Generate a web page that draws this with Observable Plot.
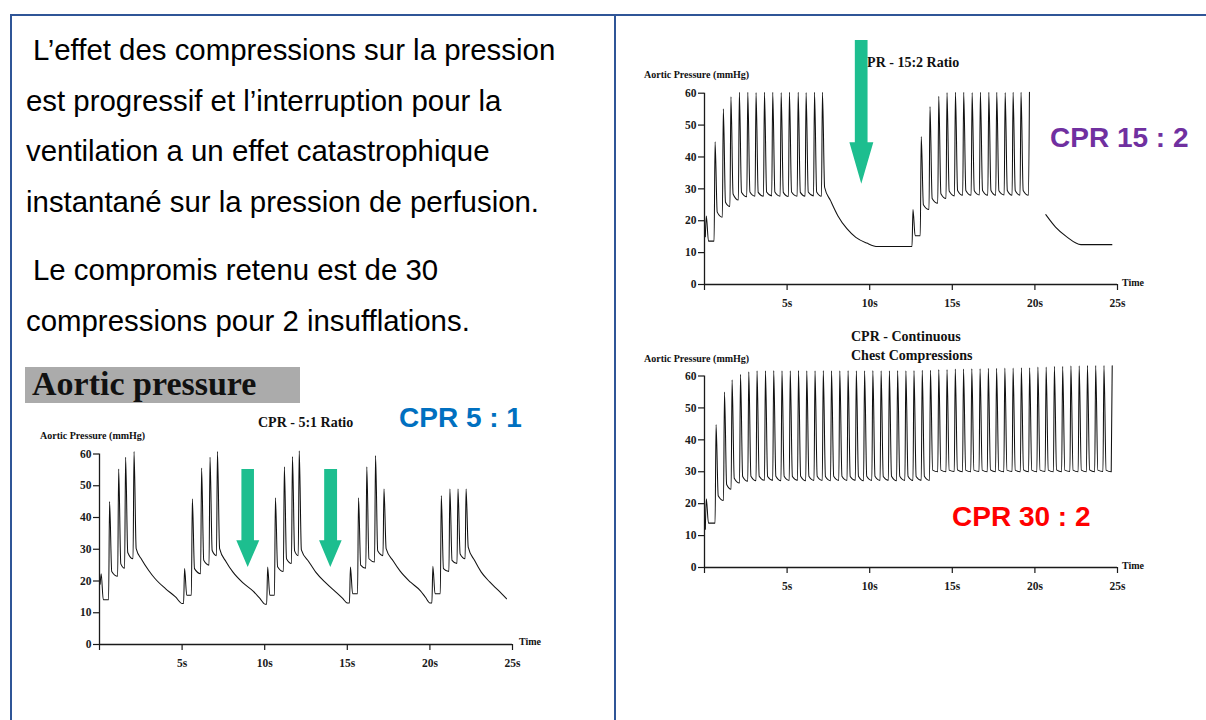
<!DOCTYPE html>
<html><head><meta charset="utf-8">
<script src="https://cdn.jsdelivr.net/npm/d3@7"></script>
<script src="https://cdn.jsdelivr.net/npm/@observablehq/plot@0.6"></script>
<style>
html,body{margin:0;padding:0;background:#fff;}
#page{position:relative;width:1206px;height:720px;overflow:hidden;font-family:"Liberation Sans",Arial,sans-serif;}
.t{position:absolute;white-space:nowrap;}
.body{font-size:29px;line-height:29px;color:#000;}
.cpr{font-weight:bold;font-size:28px;line-height:28px;}
.serif{font-family:"Liberation Serif","Times New Roman",serif;font-weight:bold;color:#111;}
.line{position:absolute;background:#2F5597;}
.chart{position:absolute;}
</style></head>
<body><div id="page"></div>
<script>
// ---------- Axis ticks ----------
const xTicks = [0, 5, 10, 15, 20, 25];
const xTickLabels = ["", "5s", "10s", "15s", "20s", "25s"];
const yTicks = [0, 10, 20, 30, 40, 50, 60];

// ---------- CPR 5:1 (time s, aortic pressure mmHg) ----------
const r51Time  = [0.10, 0.61, 1.16, 1.58, 2.09,  5.15, 5.62, 6.18, 6.69, 7.14,  10.18, 10.65, 11.19, 11.68, 12.09,  15.19, 15.68, 16.18, 16.71, 17.22,  20.18, 20.69, 21.21, 21.70, 22.19];
const r51Pre   = [19.0, 14.1, 21.5, 24.0, 27.0,  12.9, 15.5, 22.3, 25.0, 28.0,  12.7, 15.5, 23.0, 25.5, 28.0,  13.1, 16.0, 24.0, 26.0, 28.0,  13.1, 16.0, 23.0, 25.5, 27.0];
const r51Peak  = [22.3, 45.0, 55.3, 59.0, 60.8,  23.9, 45.9, 55.6, 59.0, 60.8,  24.4, 46.2, 56.0, 59.2, 61.0,  24.4, 46.2, 56.0, 59.5, 49.0,  24.6, 46.9, 49.0, 49.0, 49.0];
const r51After = [14.1, 23.0, 25.4, 29.0, 30.2,  15.5, 23.9, 26.5, 29.6, 30.2,  15.5, 24.5, 27.0, 29.5, 29.8,  16.0, 25.0, 27.0, 29.5, 30.2,  16.0, 23.9, 26.5, 28.5, 30.7];
const r51DecayTime = [2.56, 2.97, 3.37, 3.99, 4.60, 5.01,  7.67, 8.08, 8.69, 9.30, 9.71, 10.02,  12.68, 13.09, 13.70, 14.31, 14.72, 14.99,  17.79, 18.20, 18.81, 19.43, 19.74, 20.00,  22.70, 23.11, 23.62, 24.13, 24.64];
const r51DecayP    = [26.7, 23.4, 20.7, 17.6, 15.0, 12.9,  26.0, 22.8, 19.4, 16.8, 14.5, 12.7,  26.0, 22.8, 19.4, 16.5, 14.5, 13.1,  26.2, 23.1, 19.7, 16.9, 14.8, 13.1,  26.5, 22.8, 19.7, 17.1, 14.4];
const r51ArrowA_T = [8.59, 8.59, 8.28, 8.97, 9.67, 9.35, 9.35];
const r51ArrowA_P = [55.3, 32.8, 32.8, 24.4, 32.8, 32.8, 55.3];
const r51ArrowB_T = [13.60, 13.60, 13.29, 13.97, 14.66, 14.38, 14.38];
const r51ArrowB_P = [55.3, 32.8, 32.8, 24.4, 32.8, 32.8, 55.3];

// ---------- CPR 15:2 ----------
const r152Time  = [0.11, 0.64, 1.14, 1.60, 2.11, 2.62, 3.12, 3.63, 4.13, 4.64, 5.14, 5.67, 6.15, 6.66, 7.14,  12.62, 13.12, 13.65, 14.18, 14.68, 15.19, 15.69, 16.20, 16.70, 17.21, 17.69, 18.20, 18.68, 19.16, 19.67];
const r152Pre   = [15.0, 13.6, 21.1, 24.5, 26.5, 27.5, 27.7, 27.7, 27.8, 27.7, 27.6, 27.7, 27.7, 27.8, 27.7,  11.9, 15.3, 23.5, 25.5, 27.0, 27.8, 28.0, 28.0, 28.1, 28.0, 28.0, 28.1, 28.0, 28.0, 28.0];
const r152Peak  = [21.5, 44.8, 55.1, 58.9, 60.3, 60.3, 60.2, 60.3, 60.3, 60.2, 60.3, 60.3, 60.2, 60.3, 60.3,  23.5, 46.4, 55.8, 59.0, 60.2, 60.3, 60.3, 60.2, 60.3, 60.3, 60.3, 60.2, 60.3, 60.3, 60.3];
const r152After = [13.6, 22.7, 25.8, 28.4, 28.9, 29.0, 28.9, 29.0, 29.0, 28.9, 29.0, 28.9, 29.0, 29.0, 30.5,  15.3, 25.0, 27.0, 28.5, 29.3, 29.5, 29.5, 29.4, 29.5, 29.5, 29.4, 29.5, 29.5, 29.5, null];
const r152DecayTime = [7.63, 8.07, 8.62, 9.16, 9.82, 10.48, 12.46];
const r152DecayP    = [26.3, 21.6, 17.5, 14.8, 13.0, 11.9, 11.9];
const r152TailTime = [20.66, 21.25, 21.91, 22.79, 24.66];
const r152TailP    = [21.9, 18.0, 15.0, 12.5, 12.5];
const r152Arrow_T = [9.10, 9.10, 8.77, 9.49, 10.22, 9.87, 9.87];
const r152Arrow_P = [76.7, 44.6, 44.6, 31.6, 44.6, 44.6, 76.7];

// ---------- CPR continuous chest compressions ----------
const ccTime  = [0.11, 0.70, 1.21, 1.67, 2.18, 2.68, 3.18, 3.69, 4.19, 4.69, 5.19, 5.69, 6.19, 6.69, 7.19, 7.69, 8.19, 8.69, 9.19, 9.69, 10.19, 10.69, 11.19, 11.69, 12.19, 12.68, 13.18, 13.68, 14.18, 14.68, 15.18, 15.68, 16.18, 16.68, 17.18, 17.68, 18.18, 18.68, 19.18, 19.68, 20.18, 20.68, 21.18, 21.68, 22.18, 22.68, 23.18, 23.68, 24.18, 24.68];
const ccPre   = [12.0, 13.9, 21.0, 24.5, 26.5, 27.0, 27.2, 27.3, 27.3, 27.2, 27.3, 27.3, 27.2, 27.3, 27.3, 27.2, 27.3, 27.3, 27.3, 27.2, 27.3, 27.3, 27.3, 27.2, 27.3, 27.3, 27.3, 27.3, 30.0, 30.0, 30.1, 30.0, 30.0, 30.1, 30.0, 30.0, 30.0, 30.1, 30.0, 30.0, 30.0, 30.1, 30.0, 30.0, 30.1, 30.0, 30.0, 30.0, 30.1, 30.0];
const ccPeak  = [21.5, 44.8, 55.0, 58.8, 60.5, 61.3, 61.6, 61.6, 61.7, 61.6, 61.6, 61.7, 61.6, 61.6, 61.7, 61.6, 61.6, 61.7, 61.6, 61.6, 61.7, 61.6, 61.6, 61.7, 61.6, 61.7, 61.8, 61.8, 62.0, 62.0, 62.2, 62.2, 62.3, 62.3, 62.4, 62.4, 62.5, 62.5, 62.6, 62.6, 62.8, 62.8, 63.0, 63.0, 63.2, 63.2, 63.3, 63.3, 63.3, 63.2];
const ccAfter = [13.9, 22.5, 26.0, 28.0, 28.5, 28.6, 28.6, 28.5, 28.6, 28.6, 28.5, 28.6, 28.6, 28.6, 28.5, 28.6, 28.6, 28.5, 28.6, 28.6, 28.6, 28.5, 28.6, 28.6, 28.6, 28.5, 28.6, 30.5, 30.5, 30.5, 30.6, 30.5, 30.5, 30.5, 30.6, 30.5, 30.5, 30.5, 30.6, 30.5, 30.5, 30.5, 30.6, 30.5, 30.5, 30.5, 30.6, 30.5, 30.5, null];

// ---------- Page texts ----------
const bodyLines = [
  ["L’effet des compressions sur la pression", 33, 50],
  ["est progressif et l’interruption pour la", 26, 101],
  ["ventilation a un effet catastrophique", 26, 151],
  ["instantané sur la pression de perfusion.", 26, 202],
  ["Le compromis retenu est de 30", 33, 270],
  ["compressions pour 2 insufflations.", 26, 321]
];

const page = document.getElementById("page");
function txt(str, cls, left, cy, size, color) {
  const d = document.createElement("div");
  d.className = "t " + cls;
  d.textContent = str;
  d.style.left = left + "px";
  d.style.top = (cy - size / 2) + "px";
  d.style.fontSize = size + "px";
  d.style.lineHeight = size + "px";
  if (color) d.style.color = color;
  page.appendChild(d);
  return d;
}
function box(cls, left, top, w, h, bg) {
  const d = document.createElement("div");
  d.className = cls;
  Object.assign(d.style, {position: "absolute", left: left + "px", top: top + "px", width: w + "px", height: h + "px"});
  if (bg) d.style.background = bg;
  page.appendChild(d);
  return d;
}

// table borders
box("line", 10, 14, 1196, 2);
box("line", 10, 14, 2, 706);
box("line", 614, 14, 2, 706);

bodyLines.forEach(([s, x, y]) => txt(s, "body", x, y, 29.4));

// banner
box("", 25, 367, 275, 36, "#ABABAB");
txt("Aortic pressure", "serif", 32, 384, 34, "#111");

// chart texts
txt("CPR - 5:1 Ratio", "serif", 258, 423, 14);
txt("Aortic Pressure (mmHg)", "serif", 40, 436, 10);
txt("Time", "serif", 519, 642, 10);

txt("CPR - 15:2 Ratio", "serif", 857, 63, 14);
txt("Aortic Pressure (mmHg)", "serif", 644, 75, 10);
txt("Time", "serif", 1122, 283, 10);

txt("CPR - Continuous", "serif", 851, 337, 14);
txt("Chest Compressions", "serif", 851, 356, 14);
txt("Aortic Pressure (mmHg)", "serif", 644, 359, 10);
txt("Time", "serif", 1122, 566, 10);

// coloured labels
txt("CPR 5 : 1", "cpr", 399, 418, 28, "#0070C0");
txt("CPR 15 : 2", "cpr", 1050, 138, 28, "#7030A0");
txt("CPR 30 : 2", "cpr", 952, 517, 28, "#FF0000");

// ---------- build traces ----------
function trace(time, pre, peak, after, decT = [], decP = []) {
  const pts = [];
  time.forEach((t, i) => {
    pts.push({t: t - 0.06, p: pre[i]});
    pts.push({t: t, p: peak[i]});
    if (after[i] != null) pts.push({t: t + 0.13, p: after[i]});
  });
  decT.forEach((t, i) => pts.push({t, p: decP[i]}));
  return pts.sort((a, b) => a.t - b.t);
}
const zip = (T, P) => T.map((t, i) => ({t, p: P[i]}));
const arrowColor = "#1DBE8F";

function chart({data, extra = [], arrows = [], left, top, width, height, ml, mt, innerW, innerH}) {
  const svg = Plot.plot({
    width, height,
    marginLeft: ml, marginTop: mt,
    marginRight: width - ml - innerW, marginBottom: height - mt - innerH,
    x: {domain: [0, 25]},
    y: {domain: [0, 60]},
    style: {background: "transparent", fontFamily: "Liberation Serif", fontWeight: "bold", fontSize: "11.5px", color: "#1a1a1a", overflow: "visible"},
    marks: [
      Plot.axisX({ticks: xTicks, tickFormat: (d) => xTickLabels[xTicks.indexOf(d)], tickSize: 6, tickPadding: 8, label: null, strokeWidth: 1.2}),
      Plot.axisY({ticks: yTicks, tickSize: 6, tickPadding: 2, label: null, strokeWidth: 1.2}),
      Plot.ruleY([0], {stroke: "#1a1a1a", strokeWidth: 1.3}),
      Plot.ruleX([0], {stroke: "#1a1a1a", strokeWidth: 1.3}),
      ...arrows.map(a => Plot.line(a, {x: "t", y: "p", fill: arrowColor, stroke: "none", curve: "linear"})),
      Plot.line(data, {x: "t", y: "p", curve: "monotone-x", stroke: "#111", strokeWidth: 1.05}),
      ...extra.map(e => Plot.line(e, {x: "t", y: "p", curve: "monotone-x", stroke: "#111", strokeWidth: 1.05}))
    ]
  });
  svg.classList.add("chart");
  svg.style.left = left + "px";
  svg.style.top = top + "px";
  page.appendChild(svg);
}

chart({
  data: trace(r51Time, r51Pre, r51Peak, r51After, r51DecayTime, r51DecayP),
  arrows: [zip(r51ArrowA_T, r51ArrowA_P), zip(r51ArrowB_T, r51ArrowB_P)],
  left: 20, top: 395, width: 540, height: 285, ml: 79, mt: 58.5, innerW: 413, innerH: 190.5
});
chart({
  data: trace(r152Time, r152Pre, r152Peak, r152After, r152DecayTime, r152DecayP),
  extra: [zip(r152TailTime, r152TailP)],
  arrows: [zip(r152Arrow_T, r152Arrow_P)],
  left: 630, top: 30, width: 560, height: 290, ml: 74, mt: 62.7, innerW: 413, innerH: 191.3
});
chart({
  data: trace(ccTime, ccPre, ccPeak, ccAfter),
  left: 630, top: 330, width: 560, height: 280, ml: 74, mt: 45.5, innerW: 413, innerH: 191.5
});
</script>
</body></html>
